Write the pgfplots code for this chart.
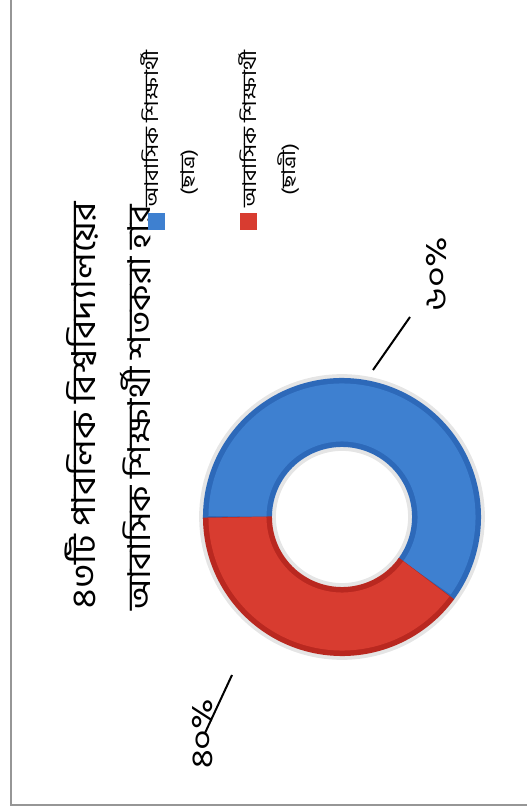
\documentclass[border=0pt]{standalone}
\usepackage{graphicx}
\usepackage{pgfplots}
\pgfplotsset{compat=1.18}
\usepackage{fontspec}
\newfontfamily\bn[Script=Bengali]{Hind Siliguri}
\newfontfamily\bnwide[Script=Bengali, FakeStretch=1.12]{Hind Siliguri}
\newfontfamily\bnleg[Script=Bengali, FakeStretch=1.2]{Hind Siliguri}
\definecolor{blueA}{RGB}{45,105,185}
\definecolor{blueB}{RGB}{62,128,208}
\definecolor{redA}{RGB}{185,40,32}
\definecolor{redB}{RGB}{216,60,48}
\definecolor{frame}{RGB}{150,150,150}
% values (percent)
\def\valBoys{60}
\def\valGirls{40}
\begin{document}
\rotatebox{90}{%
\begin{tikzpicture}
\useasboundingbox (0,0) rectangle (812pt,-527pt);
\draw[frame, line width=2pt] (7pt,-530pt) -- (7pt,-11pt) -- (815pt,-11pt);
% title
\node[anchor=center, font=\bnwide\fontsize{33}{38}\selectfont] at (407pt,-82pt) {৪৩টি পাবলিক বিশ্ববিদ্যালয়ের};
\node[anchor=center, font=\bnwide\fontsize{31.5}{36}\selectfont] at (404pt,-136pt) {আবাসিক শিক্ষার্থী শতকরা হার};
\begin{axis}[at={(295pt,-342pt)}, anchor=origin, scale only axis, width=278pt, height=278pt,
  xmin=-1, xmax=1, ymin=-1, ymax=1, hide axis, clip=false]
% soft halo
\addplot[domain=0:360, samples=120, line width=5pt, black!10] ({1.01*cos(x)},{1.01*sin(x)});
\addplot[domain=0:360, samples=120, line width=4pt, black!10] ({0.49*cos(x)},{0.49*sin(x)});
% boys (blue) slice
\addplot[domain=90+\valGirls*3.6-1:451, samples=120, line width=69pt, blueA] ({0.752*cos(x)},{0.752*sin(x)});
\addplot[domain=90+\valGirls*3.6+0.3:449.7, samples=120, line width=58pt, blueB] ({0.752*cos(x)},{0.752*sin(x)});
% girls (red) slice
\addplot[domain=90:90+\valGirls*3.6, samples=80, line width=69pt, redA] ({0.752*cos(x)},{0.752*sin(x)});
\addplot[domain=90.3:90+\valGirls*3.6-0.3, samples=80, line width=58pt, redB] ({0.752*cos(x)},{0.752*sin(x)});
\end{axis}
% data labels
\draw[line width=2pt] (442pt,-373pt) -- (495pt,-410pt);
\node[font=\bnleg\fontsize{30}{34}\selectfont] at (538pt,-437pt) {৬০\%};
\node[font=\bnleg\fontsize{30}{34}\selectfont] at (78pt,-203pt) {৪০\%};
\draw[line width=2pt] (137pt,-232pt) -- (79pt,-205pt);
% legend
\fill[blueB] (582pt,-148pt) rectangle (599pt,-165pt);
\node[anchor=west, font=\bnleg\fontsize{19}{22}\selectfont, inner sep=0pt] at (604pt,-150pt) {আবাসিক শিক্ষার্থী};
\node[anchor=west, font=\bnleg\fontsize{19}{22}\selectfont, inner sep=0pt] at (616pt,-189pt) {(ছাত্র)};
\fill[redB] (582pt,-240pt) rectangle (599pt,-257pt);
\node[anchor=west, font=\bnleg\fontsize{19}{22}\selectfont, inner sep=0pt] at (604pt,-248pt) {আবাসিক শিক্ষার্থী};
\node[anchor=west, font=\bnleg\fontsize{19}{22}\selectfont, inner sep=0pt] at (616pt,-288pt) {(ছাত্রী)};
\end{tikzpicture}%
}
\end{document}
